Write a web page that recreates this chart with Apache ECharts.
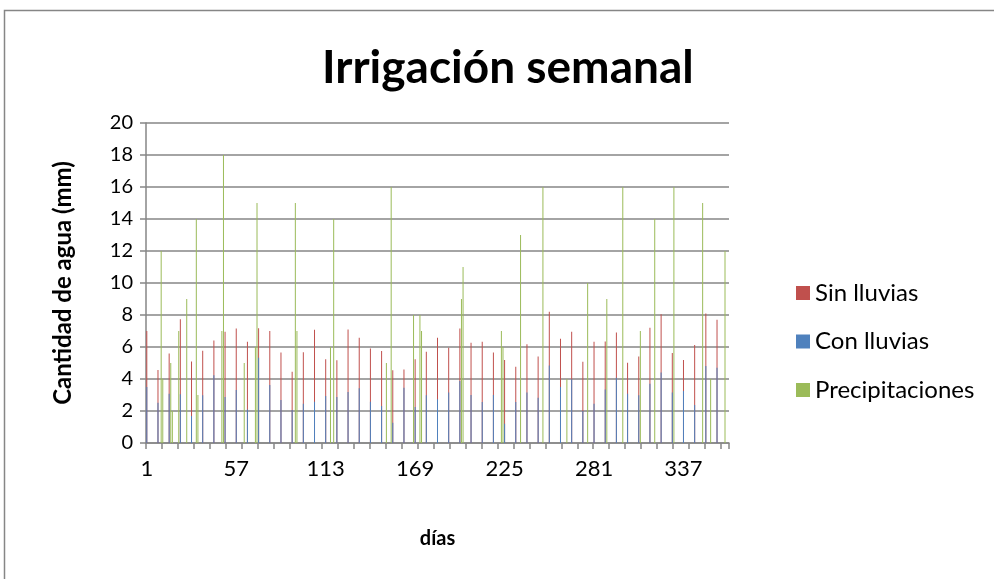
<!DOCTYPE html>
<html>
<head>
<meta charset="utf-8">
<script src="https://cdn.jsdelivr.net/npm/echarts@6/dist/echarts.min.js"></script>
<style>
  html, body { margin: 0; padding: 0; background: #fff; }
  #chart { width: 994px; height: 579px; }
</style>
</head>
<body>
<div id="chart"></div>
<script>
// días del año (eje de categorías)
const dias = [];
for (let d = 1; d <= 365; d++) dias.push(String(d));

// días en que se riega (una vez por semana)
const diasRiego = [1, 8, 15, 22, 29, 36, 43, 50, 57, 64, 71, 78, 85, 92, 99, 106, 113, 120,
  127, 134, 141, 148, 155, 162, 169, 176, 183, 190, 197, 204, 211, 218, 225, 232, 239,
  246, 253, 260, 267, 274, 281, 288, 295, 302, 309, 316, 323, 330, 337, 344, 351, 358];

const sinLluvias = [7.0, 4.56, 5.6, 7.73, 5.1, 5.77, 6.4, 6.96, 7.15, 6.33, 7.17, 7.0, 5.65,
  4.46, 5.67, 7.08, 5.23, 5.17, 7.1, 6.58, 5.9, 5.75, 4.54, 4.6, 5.23, 5.71, 6.58, 5.96,
  7.15, 6.27, 6.33, 5.65, 5.19, 4.77, 6.17, 5.4, 8.21, 6.52, 6.96, 5.08, 6.33, 6.35, 6.9,
  5.02, 5.4, 7.21, 8.04, 5.63, 5.19, 6.13, 8.1, 7.71];

const conLluvias = [3.5, 2.52, 3.08, 3.04, 1.69, 2.98, 4.23, 2.88, 3.31, 2.1, 5.33, 3.63,
  2.69, 2.06, 2.46, 2.58, 2.94, 2.88, 3.19, 3.42, 2.58, 2.31, 1.27, 3.46, 2.25, 2.98, 2.73,
  3.15, 3.88, 3.0, 2.56, 3.0, 1.21, 2.56, 3.15, 2.83, 4.85, 3.5, 3.98, 2.0, 2.46, 3.35,
  4.08, 3.08, 2.98, 3.71, 4.4, 3.15, 3.25, 2.38, 4.81, 4.71];

// días con lluvia y cantidad (mm)
const diasLluvia = [10, 11, 16, 17, 21, 26, 32, 33, 48, 49, 62, 69, 70, 94, 95, 116, 118,
  151, 154, 168, 172, 173, 198, 199, 223, 224, 235, 249, 264, 277, 289, 299, 310, 319,
  331, 349, 354, 363];
const precipitaciones = [12, 4, 5, 2, 7, 9, 14, 3, 7, 18, 5, 6, 15, 15, 7, 6, 14,
  5, 16, 8, 8, 7, 9, 11, 7, 6, 13, 16, 4, 10, 9, 16, 7, 14,
  16, 15, 4, 12];

const yTicks = [0, 20, 2]; // min, max, intervalo

function porDia(diasArr, valores) {
  const out = new Array(dias.length).fill(null);
  diasArr.forEach((d, i) => { out[d - 1] = valores[i]; });
  return out;
}

const font = "Lato, 'Open Sans', sans-serif";
const gris = "#868686";

const chart = echarts.init(document.getElementById("chart"), null, { renderer: "canvas" });

const option = {
  animation: false,
  backgroundColor: "#fff",
  title: {
    text: "Irrigación semanal",
    left: 322,
    top: 45,
    padding: 0,
    textStyle: { fontFamily: font, fontWeight: "bold", fontSize: 46, color: "#000" },
  },
  graphic: [
    {
      type: "rect",
      shape: { x: 4.5, y: 10.5, width: 1100, height: 700 },
      style: { fill: "none", stroke: gris, lineWidth: 1.5 },
      silent: true,
    },
  ],
  legend: {
    orient: "vertical",
    left: 791,
    top: 276,
    itemWidth: 14,
    itemHeight: 14,
    itemGap: 24.5,
    icon: "rect",
    textStyle: { fontFamily: font, fontSize: 24, color: "#000" },
    data: ["Sin lluvias", "Con lluvias", "Precipitaciones"],
  },
  grid: { left: 146, top: 123, width: 583, height: 320 },
  xAxis: {
    type: "category",
    data: dias,
    boundaryGap: true,
    name: "días",
    nameLocation: "middle",
    nameGap: 86,
    nameTextStyle: { fontFamily: font, fontWeight: "bold", fontSize: 20, color: "#000" },
    axisLine: { lineStyle: { color: gris, width: 1.5 } },
    axisTick: { show: true, interval: 9, length: 6, lineStyle: { color: gris, width: 1.5 } },
    axisLabel: { interval: 55, margin: 15, fontFamily: font, fontSize: 22, color: "#000" },
    splitLine: { show: false },
  },
  yAxis: {
    type: "value",
    min: yTicks[0],
    max: yTicks[1],
    interval: yTicks[2],
    name: "Cantidad de agua (mm)",
    nameLocation: "middle",
    nameGap: 71,
    nameTextStyle: { fontFamily: font, fontWeight: "bold", fontSize: 24, color: "#000" },
    axisLine: { show: true, lineStyle: { color: gris, width: 1.5 } },
    axisTick: { show: true, length: 6, lineStyle: { color: gris, width: 1.5 } },
    axisLabel: { margin: 13, fontFamily: font, fontSize: 20, color: "#000" },
    splitLine: { lineStyle: { color: gris, width: 1.5 } },
  },
  series: [
    {
      name: "Sin lluvias",
      type: "bar",
      data: porDia(diasRiego, sinLluvias),
      barWidth: 1,
      barGap: "-100%",
      itemStyle: { color: "#C0504D" },
    },
    {
      name: "Con lluvias",
      type: "bar",
      data: porDia(diasRiego, conLluvias),
      barWidth: 1,
      barGap: "-100%",
      itemStyle: { color: "#4F81BD" },
    },
    {
      name: "Precipitaciones",
      type: "bar",
      data: porDia(diasLluvia, precipitaciones),
      barWidth: 1,
      barGap: "-100%",
      itemStyle: { color: "#9BBB59" },
    },
  ],
};

chart.setOption(option);
</script>
</body>
</html>
